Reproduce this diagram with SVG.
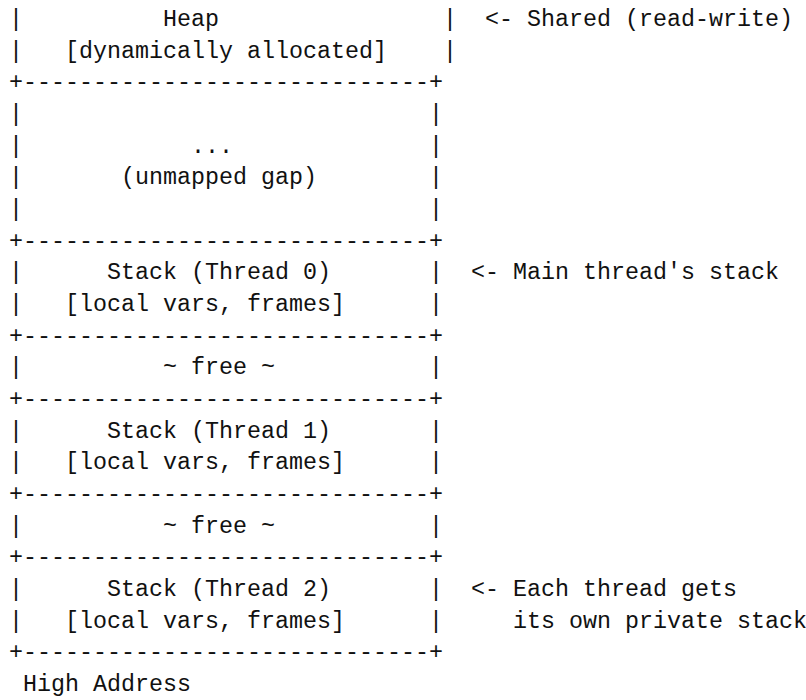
<svg xmlns="http://www.w3.org/2000/svg" width="806" height="700" viewBox="0 0 806 700" xml:space="preserve">
<style>
  text { font-family: "Liberation Mono", "DejaVu Sans Mono", monospace; font-size: 23.33px; fill: #111; white-space: pre; }
</style>
<rect x="0" y="0" width="806" height="700" fill="#ffffff"/>
<g id="heap">
  <text x="9" y="26">|          Heap                |</text>
  <text x="9" y="57.7">|   [dynamically allocated]    |</text>
  <text x="9" y="89.3">+-----------------------------+</text>
</g>
<g id="unmapped-gap">
  <text x="9" y="121">|                             |</text>
  <text x="9" y="152.7">|            ...              |</text>
  <text x="9" y="184.3">|       (unmapped gap)        |</text>
  <text x="9" y="216">|                             |</text>
  <text x="9" y="247.7">+-----------------------------+</text>
</g>
<g id="stack-thread-0">
  <text x="9" y="279.3">|      Stack (Thread 0)       |</text>
  <text x="9" y="311">|   [local vars, frames]      |</text>
  <text x="9" y="342.7">+-----------------------------+</text>
</g>
<g id="free-1">
  <text x="9" y="374.3">|          ~ free ~           |</text>
  <text x="9" y="406">+-----------------------------+</text>
</g>
<g id="stack-thread-1">
  <text x="9" y="437.7">|      Stack (Thread 1)       |</text>
  <text x="9" y="469.3">|   [local vars, frames]      |</text>
  <text x="9" y="501">+-----------------------------+</text>
</g>
<g id="free-2">
  <text x="9" y="532.7">|          ~ free ~           |</text>
  <text x="9" y="564.3">+-----------------------------+</text>
</g>
<g id="stack-thread-2">
  <text x="9" y="596">|      Stack (Thread 2)       |</text>
  <text x="9" y="627.7">|   [local vars, frames]      |</text>
  <text x="9" y="659.3">+-----------------------------+</text>
</g>
<g id="high-address">
  <text x="9" y="691"> High Address</text>
</g>
<g id="annotations">
  <text x="485" y="26">&lt;- Shared (read-write)</text>
  <text x="471" y="279.3">&lt;- Main thread's stack</text>
  <text x="471" y="596">&lt;- Each thread gets</text>
  <text x="471" y="627.7">   its own private stack</text>
</g>
</svg>
